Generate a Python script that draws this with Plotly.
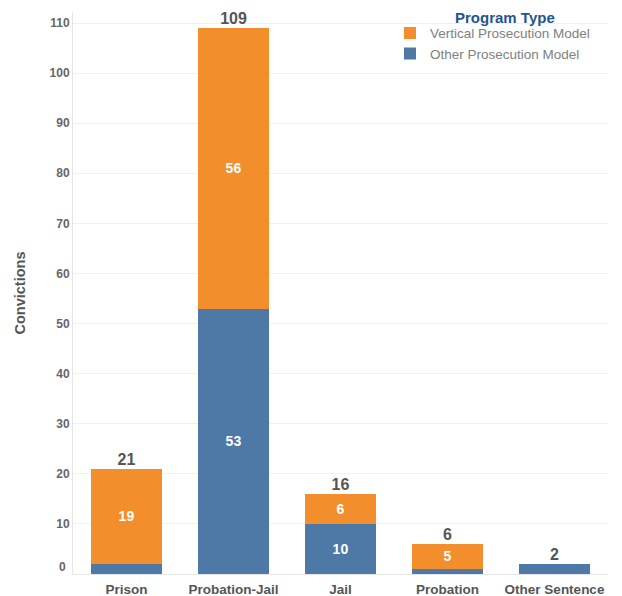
import plotly.graph_objects as go

categories = ["Prison", "Probation-Jail", "Jail", "Probation", "Other Sentence"]
other_vals = [2, 53, 10, 1, 2]
vertical_vals = [19, 56, 6, 5, 0]
other_labels = ["", "53", "10", "", ""]
vertical_labels = ["19", "56", "6", "5", ""]
y_ticks = [10, 20, 30, 40, 50, 60, 70, 80, 90, 100, 110]

totals = [o + v for o, v in zip(other_vals, vertical_vals)]

BLUE = "#4e79a7"
ORANGE = "#f28e2b"
FONT = "Arial, Liberation Sans"

fig = go.Figure()
fig.add_trace(go.Bar(
    x=categories, y=other_vals, name="Other Prosecution Model",
    marker=dict(color=BLUE, line=dict(width=0)),
    text=other_labels, textposition="inside", insidetextanchor="middle",
    textfont=dict(family=FONT, size=14, color="white", weight="bold"),
    legendrank=2,
))
fig.add_trace(go.Bar(
    x=categories, y=vertical_vals, name="Vertical Prosecution Model",
    marker=dict(color=ORANGE, line=dict(width=0)),
    text=vertical_labels, textposition="inside", insidetextanchor="middle",
    textfont=dict(family=FONT, size=14, color="white", weight="bold"),
    legendrank=1,
))
fig.add_trace(go.Scatter(
    x=categories, y=totals, mode="text", text=[str(t) for t in totals],
    textposition="top center", cliponaxis=False, showlegend=False,
    textfont=dict(family=FONT, size=16, color="#555555", weight="bold"),
    hoverinfo="skip",
))

fig.add_annotation(x=0, xref="paper", y=0, yref="y", text="0", showarrow=False,
                   xanchor="right", xshift=-5, yshift=7,
                   font=dict(family=FONT, size=12, color="#666666", weight="bold"))
fig.add_annotation(x=0.807, xref="paper", y=1, yref="paper", text="<b>Program Type</b>",
                   showarrow=False, xanchor="center", yanchor="middle", yshift=-5,
                   font=dict(family=FONT, size=15, color="#1f5592"))

# page body has an 8px default margin, so the figure is sized to fit the window
fig.update_layout(
    width=614, height=588,
    barmode="stack", bargap=0.345,
    plot_bgcolor="white", paper_bgcolor="white",
    margin=dict(l=65, r=14, t=4, b=22),
    font=dict(family=FONT, color="#555555"),
    legend=dict(
        x=0.5925, y=0.99, xanchor="left", yanchor="top",
        bgcolor="rgba(0,0,0,0)",
        font=dict(size=13.5, color="#808080"),
        traceorder="normal", itemsizing="constant",
        tracegroupgap=0, borderwidth=0,
    ),
    xaxis=dict(
        showgrid=False, showline=True, linecolor="#e6e6e6", linewidth=1,
        ticks="", automargin=False, ticklabelstandoff=3,
        tickfont=dict(size=13.5, color="#555555", weight="bold"),
    ),
    yaxis=dict(
        range=[0, 112.2], tickvals=y_ticks, showgrid=True, gridcolor="#f0f0f0",
        zeroline=False, showline=True, linecolor="#e6e6e6", linewidth=1,
        ticks="", automargin=False,
        tickfont=dict(size=12, color="#666666", weight="bold"),
        title=dict(text="Convictions", standoff=20,
                   font=dict(size=14.5, color="#555555", weight="bold")),
    ),
)

fig.write_html("out.html")
